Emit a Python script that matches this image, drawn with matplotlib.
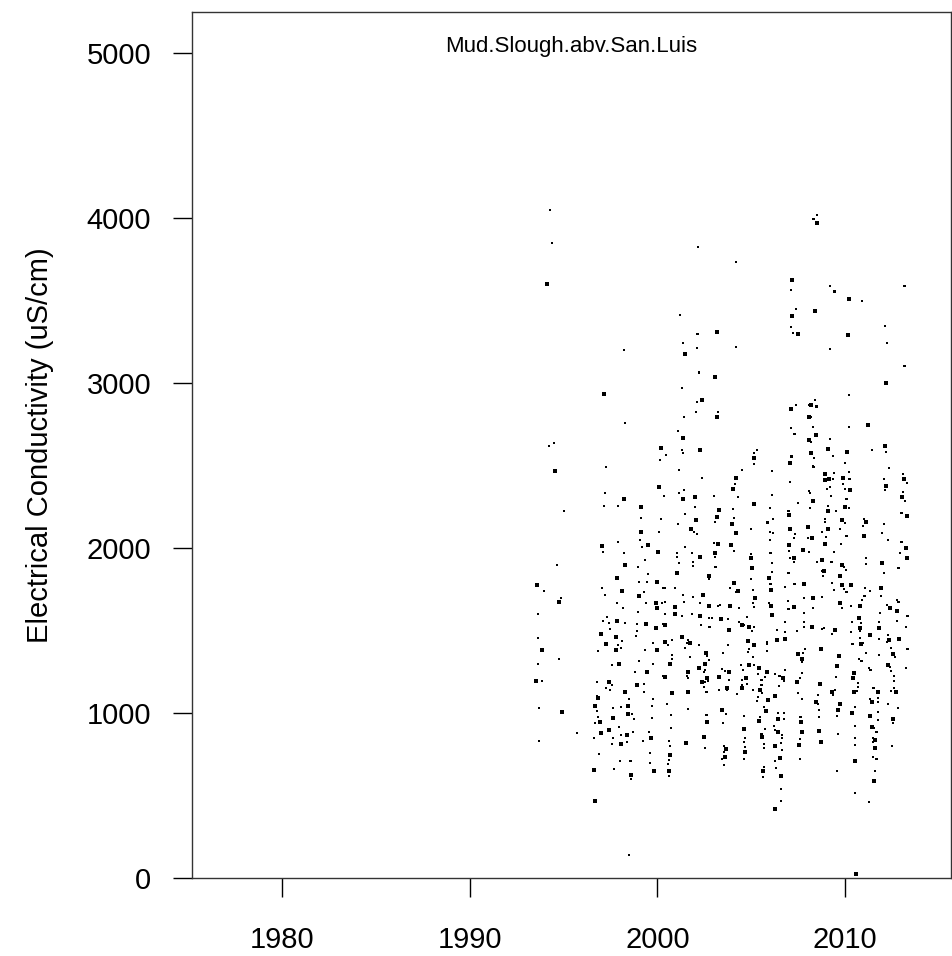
import numpy as np
import matplotlib
matplotlib.use("Agg")
import matplotlib.pyplot as plt

plt.rcParams["font.family"] = ["Liberation Sans", "DejaVu Sans"]

# (decimal year, EC in uS/cm), grouped by period
obs_1993_1996 = [
    (1994.28, 4048), (1994.39, 3848), (1994.12, 3600), (1994.49, 2636), (1994.23, 2618),
    (1994.55, 2467), (1995.02, 2224), (1994.65, 1897), (1993.59, 1776), (1993.96, 1739),
    (1994.86, 1697), (1994.76, 1673), (1993.64, 1600), (1993.64, 1455), (1993.85, 1382),
    (1994.76, 1327), (1993.64, 1297), (1993.53, 1194), (1993.85, 1194), (1993.69, 1030),
    (1994.92, 1006), (1993.69, 830), (1995.72, 879),
]

obs_1996_2000 = [
    (1996.68, 467), (1998.49, 139), (1996.89, 752), (1996.62, 655), (1997.69, 661),
    (1998.59, 709), (1998.59, 624), (1998.59, 600), (1999.61, 697), (1999.82, 648),
    (1998.01, 709), (1999.34, 1927), (1998.28, 1897), (1998.97, 1885), (1999.50, 1842),
    (1997.85, 1818), (1999.02, 1794), (1999.45, 1794), (1999.98, 1794), (2000.30, 1758),
    (1997.05, 1758), (1998.12, 1739), (1997.21, 1715), (1999.29, 1733), (1999.02, 1709),
    (1997.85, 1667), (1999.39, 1667), (1999.93, 1667), (2000.25, 1667), (1998.17, 1636),
    (1999.98, 1636), (1998.97, 1612), (1997.32, 1582), (1997.85, 1558), (1997.10, 1558),
    (1997.42, 1545), (1999.39, 1539), (1998.28, 1545), (1998.91, 1539), (1999.93, 1515),
    (2000.30, 1539), (1997.48, 1509), (1997.00, 1479), (1998.91, 1497), (1998.86, 1467),
    (1997.80, 1461), (1998.12, 1436), (1999.77, 1424), (1997.26, 1418), (1997.90, 1412),
    (1998.06, 1394), (1997.80, 1382), (1996.84, 1376), (1999.34, 1382), (1999.98, 1382),
    (1999.02, 1315), (1997.58, 1291), (1997.96, 1297), (1999.77, 1297), (1998.81, 1248),
    (1999.45, 1248), (2000.30, 1224), (1996.78, 1188), (1997.42, 1188), (1997.58, 1170),
    (1999.29, 1176), (1998.91, 1170), (1997.26, 1152), (1997.48, 1139), (1998.28, 1127),
    (1999.29, 1127), (1996.78, 1103), (1996.84, 1091), (1998.49, 1085), (1999.77, 1085),
    (1996.68, 1042), (1997.64, 1030), (1998.06, 1036), (1998.43, 1042), (1999.71, 1042),
    (1996.78, 1012), (1998.43, 994), (1998.65, 994), (1998.75, 964), (1997.64, 970),
    (1996.84, 976), (1999.71, 970), (1996.94, 945), (1996.68, 939), (1998.70, 885),
    (1997.42, 897), (1997.96, 915), (1998.06, 867), (1997.00, 879), (1999.55, 885),
    (1997.64, 848), (1998.38, 867), (1998.38, 824), (1999.23, 830), (1999.66, 848),
    (1996.62, 848), (1997.58, 812), (1998.06, 812), (1999.61, 758),
    (1998.22, 3200), (1997.16, 2933), (1998.28, 2758), (1997.26, 2491), (2000.19, 2606),
    (2000.46, 2564), (2000.14, 2533), (2000.09, 2370), (2000.35, 2315), (1997.21, 2333),
    (1998.22, 2297), (1997.16, 2255), (1997.90, 2255), (1999.13, 2248), (1999.13, 2182),
    (2000.19, 2176), (1999.13, 2097), (2000.09, 2097), (1997.90, 2036), (1997.05, 2012),
    (1999.07, 2048), (1999.18, 2006), (1999.50, 2018), (1997.10, 1976), (1998.22, 1970),
    (2000.03, 1976),
]

obs_2000_2008 = [
    (2002.16, 3824), (2004.19, 3733), (2007.17, 3624), (2007.12, 3564), (2007.39, 3448),
    (2007.17, 3406), (2007.12, 3339), (2007.23, 3303), (2007.49, 3297), (2001.21, 3412),
    (2002.16, 3297), (2003.18, 3309), (2001.37, 3242), (2002.11, 3212), (2001.47, 3176),
    (2004.19, 3218), (2002.22, 3061), (2003.07, 3036), (2001.31, 2970), (2002.11, 2885),
    (2002.38, 2897), (2002.06, 2824), (2003.23, 2824), (2003.18, 2794), (2001.42, 2794),
    (2001.10, 2709), (2001.37, 2667), (2001.31, 2594), (2001.37, 2576), (2002.27, 2594),
    (2001.15, 2473), (2002.38, 2424), (2007.12, 2842), (2007.39, 2867), (2008.08, 2867),
    (2008.08, 2794), (2007.12, 2727), (2007.33, 2691), (2008.08, 2655), (2005.31, 2594),
    (2005.15, 2576), (2005.15, 2545), (2005.15, 2509), (2007.17, 2552), (2007.07, 2515),
    (2004.51, 2473), (2006.11, 2467), (2004.19, 2424), (2007.07, 2400), (2004.14, 2388),
    (2004.03, 2358), (2001.42, 2352), (2001.15, 2333), (2002.01, 2309), (2003.02, 2315),
    (2004.30, 2309), (2005.15, 2267), (2006.11, 2321), (2008.08, 2345), (2001.37, 2297),
    (2002.01, 2248), (2004.03, 2236), (2003.28, 2230), (2006.00, 2242), (2007.01, 2224),
    (2007.01, 2200), (2007.49, 2273), (2001.47, 2206), (2003.18, 2188), (2003.07, 2158),
    (2004.08, 2182), (2003.98, 2145), (2006.16, 2176), (2005.89, 2152), (2002.06, 2170),
    (2001.10, 2145), (2004.99, 2115), (2001.79, 2115), (2001.95, 2097), (2002.11, 2085),
    (2004.19, 2091), (2006.00, 2097), (2006.16, 2091), (2007.07, 2115), (2007.33, 2085),
    (2007.28, 2061), (2008.03, 2127), (2008.03, 2061), (2003.02, 2030), (2003.23, 2024),
    (2001.47, 2006), (2001.85, 1970), (2003.92, 2018), (2004.08, 1982), (2006.00, 2048),
    (2007.01, 2018), (2007.01, 1982), (2001.05, 1970), (2003.07, 1970), (2004.99, 1964),
    (2006.05, 1970), (2007.76, 1988), (2008.08, 1976),
    (2001.05, 1945), (2002.27, 1945), (2003.07, 1945), (2003.12, 1885), (2004.99, 1939),
    (2006.11, 1909), (2007.07, 1939), (2007.28, 1939), (2007.28, 1915), (2001.15, 1909),
    (2001.05, 1848), (2001.90, 1915), (2001.90, 1891), (2005.04, 1879), (2006.11, 1855),
    (2007.01, 1848), (2002.75, 1830), (2002.75, 1812), (2004.99, 1812), (2005.95, 1818),
    (2000.41, 1758), (2000.94, 1758), (2004.08, 1788), (2003.87, 1758), (2004.19, 1733),
    (2004.30, 1739), (2005.10, 1745), (2006.05, 1782), (2006.05, 1745), (2006.80, 1764),
    (2007.33, 1782), (2007.81, 1782), (2001.37, 1715), (2001.90, 1703), (2002.43, 1715),
    (2007.81, 1697), (2000.41, 1673), (2000.94, 1642), (2001.42, 1673), (2002.27, 1667),
    (2002.75, 1648), (2003.23, 1648), (2003.34, 1655), (2003.87, 1648), (2004.35, 1636),
    (2005.10, 1667), (2005.20, 1697), (2005.15, 1642), (2005.95, 1667), (2006.05, 1648),
    (2006.96, 1679), (2007.01, 1630), (2007.28, 1642), (2007.81, 1606), (2000.41, 1600),
    (2000.94, 1600), (2001.31, 1588), (2001.85, 1600), (2002.27, 1588), (2002.75, 1576),
    (2002.91, 1576), (2003.39, 1570), (2003.76, 1570), (2004.35, 1552), (2004.51, 1533),
    (2004.62, 1533), (2004.78, 1582), (2004.88, 1521), (2005.15, 1521), (2005.04, 1497),
    (2006.11, 1594), (2006.80, 1552), (2006.80, 1491), (2006.80, 1448), (2007.81, 1552),
    (2007.81, 1521), (2000.41, 1533), (2002.32, 1533), (2002.80, 1521), (2003.82, 1503),
    (2006.37, 1503), (2007.44, 1497), (2000.41, 1430), (2000.78, 1442), (2000.57, 1412),
    (2001.31, 1461), (2001.63, 1442), (2001.58, 1424), (2001.74, 1424), (2002.22, 1412),
    (2003.76, 1412), (2004.83, 1436), (2004.88, 1388), (2004.83, 1370), (2005.15, 1412),
    (2005.84, 1430), (2005.84, 1418), (2006.37, 1442), (2007.87, 1388), (2007.76, 1364),
    (2007.49, 1358), (2001.47, 1394), (2003.50, 1364), (2002.59, 1364), (2002.64, 1345),
    (2002.75, 1321), (2002.54, 1297), (2000.78, 1352), (2000.78, 1327), (2000.67, 1297),
    (2001.74, 1339), (2004.46, 1291), (2004.88, 1291), (2005.15, 1291), (2005.36, 1279),
    (2005.41, 1273), (2005.10, 1339), (2005.84, 1376), (2007.71, 1327), (2007.71, 1309),
    (2006.80, 1261), (2002.22, 1273), (2002.48, 1248), (2002.54, 1261), (2001.63, 1248),
    (2003.44, 1267), (2003.60, 1255), (2003.82, 1248), (2004.56, 1261), (2005.36, 1236),
    (2005.84, 1248), (2006.27, 1236), (2006.53, 1224), (2006.69, 1212), (2006.75, 1194),
    (2007.71, 1242), (2000.41, 1218), (2001.58, 1224), (2001.63, 1212), (2002.64, 1212),
    (2002.70, 1194), (2002.54, 1188), (2003.28, 1218), (2003.82, 1200), (2004.51, 1200),
    (2004.72, 1212), (2005.73, 1218), (2005.57, 1200), (2007.44, 1188), (2007.60, 1212),
    (2004.51, 1170), (2004.51, 1152), (2004.78, 1176), (2005.57, 1170), (2005.47, 1139),
    (2005.57, 1121), (2006.48, 1164), (2002.38, 1188), (2002.48, 1158), (2002.64, 1127),
    (2001.63, 1127), (2003.28, 1139), (2003.71, 1139), (2003.71, 1152), (2004.24, 1115),
    (2005.10, 1139), (2005.89, 1079), (2005.36, 1097), (2005.31, 1073), (2006.27, 1103),
    (2007.49, 1121), (2007.71, 1085), (2000.78, 1121), (2000.51, 1055), (2001.63, 1024),
    (2003.44, 1018), (2003.66, 994), (2005.68, 1036), (2005.79, 1012), (2006.43, 1000),
    (2006.75, 1000), (2006.43, 964), (2006.75, 964), (2007.65, 976), (2007.65, 945),
    (2004.62, 982), (2002.64, 988), (2002.64, 945), (2000.73, 988), (2005.47, 976),
    (2005.41, 952), (2003.50, 939), (2000.73, 909), (2004.62, 903), (2005.73, 903),
    (2005.57, 873), (2005.57, 855), (2006.21, 921), (2006.27, 897), (2006.43, 885),
    (2006.64, 867), (2006.64, 848), (2007.71, 885), (2004.67, 848), (2004.62, 824),
    (2002.48, 855), (2000.62, 830), (2000.67, 800), (2001.53, 818), (2002.54, 788),
    (2003.55, 800), (2003.66, 782), (2003.55, 764), (2004.67, 794), (2004.67, 764),
    (2005.68, 812), (2005.68, 788), (2006.27, 800), (2006.59, 818), (2006.64, 776),
    (2007.55, 806), (2007.60, 842), (2003.44, 721), (2003.60, 733), (2003.55, 685),
    (2004.62, 721), (2000.67, 745), (2000.62, 715), (2000.57, 691), (2006.53, 727),
    (2006.27, 709), (2007.60, 721), (2000.62, 648), (2000.62, 618), (2005.68, 673),
    (2005.63, 648), (2006.32, 667), (2005.63, 612), (2006.59, 618), (2006.59, 539),
    (2006.59, 467), (2006.27, 418),
]

obs_2008_2014 = [
    (2008.50, 4018), (2008.34, 3994), (2008.50, 3970),
    (2009.20, 3588), (2009.46, 3552), (2010.21, 3509), (2010.90, 3497), (2013.19, 3588),
    (2008.40, 3436), (2012.13, 3345), (2012.24, 3242), (2010.16, 3291), (2009.20, 3206),
    (2013.19, 3103), (2012.18, 3000), (2010.21, 2927), (2010.21, 2733), (2011.22, 2745),
    (2008.40, 2897), (2008.50, 2855), (2008.18, 2867), (2008.18, 2794), (2008.29, 2733),
    (2008.45, 2685), (2008.18, 2642), (2009.20, 2661), (2009.09, 2600), (2008.34, 2545),
    (2009.36, 2558), (2008.18, 2576), (2008.29, 2497), (2008.34, 2491), (2010.10, 2582),
    (2011.44, 2594), (2012.18, 2582), (2012.13, 2618), (2010.00, 2515), (2012.34, 2485),
    (2008.93, 2448), (2009.41, 2455), (2009.36, 2418), (2009.14, 2418), (2009.20, 2370),
    (2009.04, 2358), (2008.93, 2412), (2010.21, 2461), (2010.26, 2418), (2009.89, 2424),
    (2009.89, 2388), (2010.00, 2358), (2010.26, 2352), (2009.25, 2315), (2012.08, 2418),
    (2012.18, 2376), (2012.13, 2352), (2013.09, 2448), (2013.14, 2418), (2013.30, 2394),
    (2013.09, 2339), (2013.03, 2309), (2013.19, 2285), (2008.13, 2333), (2008.29, 2285),
    (2009.09, 2255), (2010.10, 2297), (2010.00, 2248), (2010.21, 2242), (2009.52, 2224),
    (2009.09, 2224), (2008.13, 2242), (2013.03, 2212), (2013.30, 2194), (2008.93, 2176),
    (2008.93, 2158), (2009.84, 2170), (2010.00, 2152), (2011.01, 2176), (2011.12, 2158),
    (2010.96, 2133), (2012.08, 2145), (2009.09, 2115), (2008.77, 2097), (2009.73, 2115),
    (2008.24, 2061), (2008.98, 2067), (2010.10, 2073), (2011.01, 2073), (2011.97, 2091),
    (2012.29, 2048), (2008.93, 2024), (2009.78, 2024), (2013.03, 2036), (2013.25, 2000),
    (2009.41, 1976), (2012.93, 1970),
    (2008.77, 1927), (2008.50, 1915), (2009.30, 1915), (2009.84, 1897), (2009.94, 1885),
    (2008.77, 1861), (2008.88, 1861), (2008.82, 1830), (2010.05, 1867), (2009.73, 1830),
    (2011.12, 1939), (2011.12, 1903), (2011.97, 1909), (2012.08, 1848), (2012.87, 1879),
    (2013.30, 1939), (2009.30, 1788), (2009.41, 1745), (2009.84, 1776), (2009.94, 1752),
    (2010.10, 1733), (2010.32, 1776), (2011.06, 1758), (2011.33, 1739), (2011.92, 1758),
    (2011.92, 1709), (2011.06, 1709), (2008.29, 1697), (2008.29, 1636), (2008.77, 1703),
    (2009.73, 1667), (2009.84, 1636), (2010.32, 1648), (2010.80, 1648), (2010.90, 1685),
    (2012.24, 1655), (2012.39, 1636), (2012.77, 1685), (2012.87, 1673), (2012.77, 1618),
    (2011.86, 1606), (2013.35, 1588), (2010.74, 1576), (2010.37, 1552), (2010.85, 1545),
    (2010.80, 1515), (2010.80, 1497), (2011.81, 1552), (2011.81, 1515), (2012.77, 1558),
    (2013.25, 1521), (2008.24, 1521), (2008.77, 1509), (2008.88, 1515), (2009.46, 1503),
    (2009.30, 1479), (2010.32, 1491), (2011.33, 1473), (2011.28, 1473), (2012.29, 1473),
    (2012.87, 1448), (2010.80, 1455), (2011.81, 1448), (2012.34, 1442), (2012.24, 1430),
    (2010.42, 1418), (2010.85, 1418), (2010.96, 1424), (2012.45, 1394), (2008.72, 1388),
    (2011.12, 1364), (2011.81, 1352), (2012.55, 1358), (2012.66, 1339), (2013.35, 1388),
    (2009.68, 1345), (2010.74, 1327), (2010.90, 1315), (2009.57, 1285), (2011.28, 1273),
    (2011.38, 1261), (2012.29, 1291), (2012.39, 1279), (2013.25, 1273), (2010.48, 1242),
    (2012.45, 1255), (2009.52, 1218), (2010.42, 1212), (2012.61, 1224), (2012.61, 1194),
    (2008.66, 1176), (2010.69, 1182), (2010.69, 1158), (2009.30, 1127), (2009.46, 1139),
    (2009.36, 1109), (2010.48, 1127), (2010.64, 1133), (2011.54, 1152), (2011.76, 1127),
    (2012.45, 1133), (2012.61, 1152), (2012.71, 1127), (2008.56, 1109), (2011.33, 1085),
    (2011.44, 1067), (2011.76, 1091), (2011.76, 1067), (2008.45, 1067), (2008.56, 1055),
    (2008.61, 1018), (2009.73, 1055), (2012.29, 1055), (2012.82, 1030), (2009.62, 1018),
    (2010.53, 1036), (2010.42, 1006), (2010.37, 1000), (2011.76, 1006), (2011.76, 958),
    (2011.33, 982), (2008.61, 976), (2009.57, 982), (2012.55, 964), (2012.55, 939),
    (2010.53, 921), (2011.44, 915), (2011.54, 909), (2011.70, 885), (2008.61, 891),
    (2009.62, 873), (2011.49, 848), (2011.60, 836), (2011.49, 824), (2010.53, 848),
    (2008.72, 824), (2010.53, 806), (2012.50, 800), (2011.60, 788), (2011.49, 733),
    (2011.70, 721), (2010.53, 709), (2009.57, 648), (2011.60, 648), (2011.54, 588),
    (2010.53, 515), (2011.28, 461), (2010.58, 25),
]

site_name = "Mud.Slough.abv.San.Luis"
year_ticks = [1980, 1990, 2000, 2010]
ec_ticks = [0, 1000, 2000, 3000, 4000, 5000]

obs = np.array(obs_1993_1996 + obs_1996_2000 + obs_2000_2008 + obs_2008_2014)
years = obs[:, 0]
ec = obs[:, 1]

fig = plt.figure(figsize=(9.52, 9.56), dpi=100)
ax = fig.add_axes([192 / 952, 78 / 956, (951 - 192) / 952, (878 - 12) / 956])

# R-ish "." points: a mix of small square sizes
sizes = np.array([2.0, 4.0, 7.0])[np.arange(len(years)) % 3]
ax.scatter(years, ec, s=sizes, marker="s", color="black", linewidths=0)

ax.set_xlim(1975.2, 2015.65)
ax.set_ylim(0, 5248)
ax.set_xticks(year_ticks)
ax.set_yticks(ec_ticks)
ax.tick_params(axis="both", direction="out", length=13.5, width=1.0,
               labelsize=21, colors="black")
ax.tick_params(axis="x", pad=21)
ax.tick_params(axis="y", pad=16)
for sp in ax.spines.values():
    sp.set_linewidth(1.0)
    sp.set_color("#333333")

ax.set_ylabel("Electrical Conductivity (uS/cm)", fontsize=21, labelpad=23)
ax.text(0.5, 0.96, site_name, transform=ax.transAxes, ha="center",
        va="center", fontsize=16)

fig.savefig("out.png", dpi=100)
